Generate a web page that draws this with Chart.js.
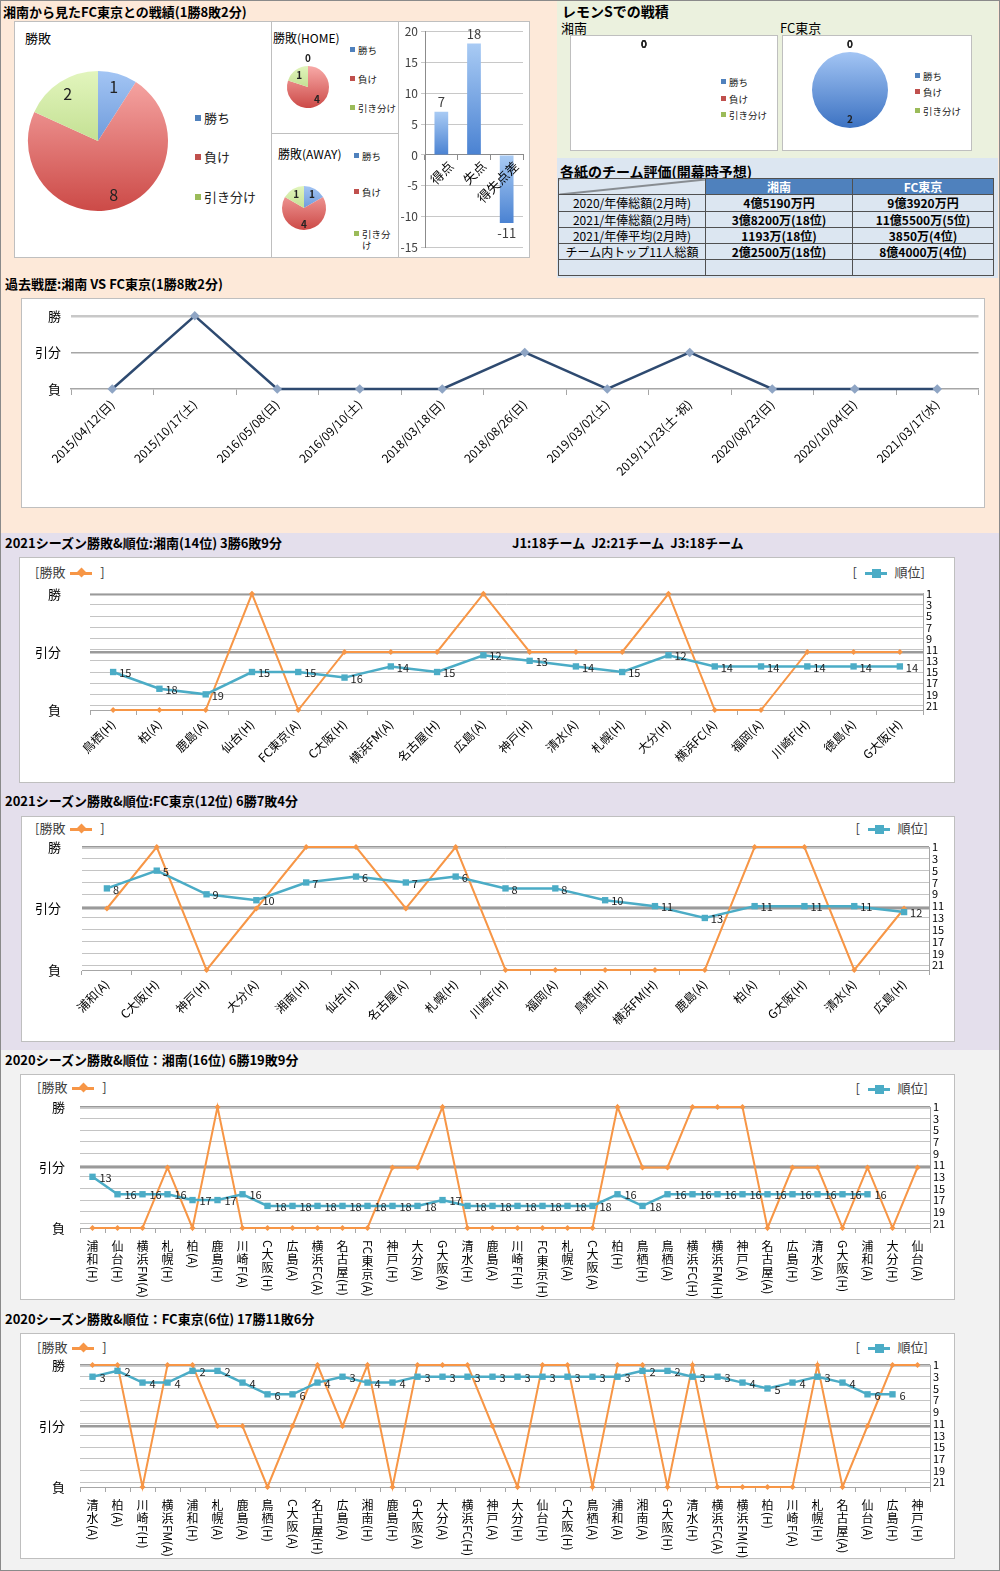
<!DOCTYPE html>
<html lang="ja">
<head>
<meta charset="utf-8">
<title>湘南 vs FC東京 戦績</title>
<script src="https://cdn.jsdelivr.net/npm/chart.js@4.4.1/dist/chart.umd.min.js"></script>
<style>
  body { margin:0; width:1000px; height:1571px; position:relative; overflow:hidden; background:#fff;
         font-family:"Noto Sans CJK JP","Noto Sans",sans-serif; color:#000; }
  .bg, .box, .ttl, .lbl, .lg, .plg, .line { position:absolute; }
  .box { background:#fff; border:1px solid #bfbfbf; box-sizing:border-box; }
  .line { background:#bfbfbf; }
  .ttl { font-weight:bold; font-size:13px; line-height:1; white-space:nowrap; }
  .lbl { font-size:13px; line-height:1; white-space:nowrap; }
  .lg { font-size:13px; line-height:16px; color:#404040; white-space:nowrap; }
  .mk { display:inline-block; position:relative; width:22px; height:3px; vertical-align:middle; margin:0 5px; }
  .mk.o { background:#f79646; }
  .mk.o::after { content:''; position:absolute; left:7.5px; top:-2.5px; width:7px; height:7px; background:#f79646; transform:rotate(45deg); }
  .mk.b { background:#4bacc6; }
  .mk.b::after { content:''; position:absolute; left:7px; top:-3px; width:9px; height:9px; background:#4bacc6; }
  .plg { color:#222; white-space:nowrap; }
  .plg i { display:inline-block; margin-right:3px; vertical-align:middle; position:relative; top:-1px; }
  .plg span { display:inline-block; vertical-align:top; white-space:normal; }
  #evalTable { position:absolute; left:558px; top:178px; width:435px; border-collapse:collapse; table-layout:fixed; font-size:12px; }
  #evalTable td { border:1px solid #505050; padding:0; text-align:center; line-height:14px; background:#dce6f1; white-space:nowrap; }
  #evalTable td.h { background:#4f81bd; color:#fff; font-weight:bold; }
  #evalTable td.v { font-weight:bold; }
  #evalTable td.diag { background:linear-gradient(to bottom right, transparent calc(50% - 1px), #333 50%, transparent calc(50% + 1px)) #dce6f1; }
  .frame { position:absolute; left:0; top:0; width:998px; height:1569px; border:1px solid #8a8a8a; pointer-events:none; }
</style>
</head>
<body>
<!-- section backgrounds -->
<div class="bg" style="left:0;top:0;width:1000px;height:533px;background:#fde9d9"></div>
<div class="bg" style="left:557px;top:0;width:441px;height:158px;background:#ebf1de"></div>
<div class="bg" style="left:557px;top:158px;width:441px;height:120px;background:#dce6f1"></div>
<div class="bg" style="left:0;top:533px;width:1000px;height:517px;background:#e4dfec"></div>
<div class="bg" style="left:0;top:1050px;width:1000px;height:521px;background:#f2f2f2"></div>

<!-- 上段左: 対戦成績 -->
<div class="ttl" style="left:3px;top:5px">湘南から見たFC東京との戦績(1勝8敗2分)</div>
<div class="box" style="left:14px;top:21px;width:516px;height:237px"></div>
<div class="line" style="left:271px;top:21px;width:1px;height:237px"></div>
<div class="line" style="left:398px;top:21px;width:1px;height:237px"></div>
<div class="line" style="left:271px;top:133px;width:127px;height:1px"></div>
<div class="lbl" style="left:25px;top:31px">勝敗</div>
<div class="lbl" style="left:273px;top:32px;font-size:12px">勝敗(HOME)</div>
<div class="lbl" style="left:278px;top:148px;font-size:12px">勝敗(AWAY)</div>

<!-- 上段右: レモンS -->
<div class="ttl" style="left:562px;top:4px;font-size:14px">レモンSでの戦積</div>
<div class="lbl" style="left:561px;top:21px">湘南</div>
<div class="lbl" style="left:780px;top:21px">FC東京</div>
<div class="box" style="left:570px;top:35px;width:208px;height:116px"></div>
<div class="box" style="left:782px;top:35px;width:190px;height:116px"></div>

<div class="ttl" style="left:560px;top:164px;font-size:14px">各紙のチーム評価(開幕時予想)</div>
<table id="evalTable"><colgroup><col style="width:147px"><col style="width:147px"><col style="width:141px"></colgroup><tbody></tbody></table>

<!-- 過去戦歴 -->
<div class="ttl" style="left:5px;top:277px">過去戦歴:湘南 VS FC東京(1勝8敗2分)</div>
<div class="box" style="left:21px;top:298px;width:964px;height:210px"></div>

<!-- 2021 -->
<div class="ttl" style="left:5px;top:536px">2021シーズン勝敗&amp;順位:湘南(14位) 3勝6敗9分</div>
<div class="ttl" style="left:512px;top:536px">J1:18チーム&nbsp;&nbsp;J2:21チーム&nbsp;&nbsp;J3:18チーム</div>
<div class="box" style="left:19px;top:557px;width:936px;height:226px"></div>
<div class="lg" style="left:35px;top:564px">[勝敗<span class="mk o"></span> ]</div>
<div class="lg" style="right:75px;top:564px">[ <span class="mk b"></span> 順位]</div>

<div class="ttl" style="left:5px;top:794px">2021シーズン勝敗&amp;順位:FC東京(12位) 6勝7敗4分</div>
<div class="box" style="left:21px;top:816px;width:934px;height:226px"></div>
<div class="lg" style="left:35px;top:820px">[勝敗<span class="mk o"></span> ]</div>
<div class="lg" style="right:72px;top:820px">[ <span class="mk b"></span> 順位]</div>

<!-- 2020 -->
<div class="ttl" style="left:5px;top:1053px">2020シーズン勝敗&amp;順位：湘南(16位) 6勝19敗9分</div>
<div class="box" style="left:20px;top:1074px;width:935px;height:226px"></div>
<div class="lg" style="left:37px;top:1079px">[勝敗<span class="mk o"></span> ]</div>
<div class="lg" style="right:72px;top:1080px">[ <span class="mk b"></span> 順位]</div>

<div class="ttl" style="left:5px;top:1312px">2020シーズン勝敗&amp;順位：FC東京(6位) 17勝11敗6分</div>
<div class="box" style="left:20px;top:1333px;width:935px;height:226px"></div>
<div class="lg" style="left:37px;top:1339px">[勝敗<span class="mk o"></span> ]</div>
<div class="lg" style="right:72px;top:1339px">[ <span class="mk b"></span> 順位]</div>

<div class="frame"></div>

<script>
// ---- データ ----
// 勝敗の値: 0=負, 1=引分, 2=勝
const resultNames = ['負', '引分', '勝'];
const resultTicks = [0, 1, 2];
const rankTicks = [1, 3, 5, 7, 9, 11, 13, 15, 17, 19, 21];

// 対戦成績 (湘南から見た)
const pieLabels = ['勝ち', '負け', '引き分け'];
const totalRecord = [1, 8, 2];
const homeRecord = [0, 4, 1];
const awayRecord = [1, 4, 1];
const goalLabels = ['得点', '失点', '得失点差'];
const goalValues = [7, 18, -11];

// レモンSでの戦積
const lemonShonan = [0, 0, 0];
const lemonTokyo = [2, 0, 0];

// 各紙のチーム評価
const evalHeads = ['湘南', 'FC東京'];
const evalRows = ['2020/年俸総額(2月時)', '2021/年俸総額(2月時)', '2021/年俸平均(2月時)', 'チーム内トップ11人総額', ''];
const evalShonan = ['4億5190万円', '3億8200万(18位)', '1193万(18位)', '2億2500万(18位)', ''];
const evalTokyo = ['9億3920万円', '11億5500万(5位)', '3850万(4位)', '8億4000万(4位)', ''];

// 過去戦歴
const pastDates = ['2015/04/12(日)', '2015/10/17(土)', '2016/05/08(日)', '2016/09/10(土)', '2018/03/18(日)',
  '2018/08/26(日)', '2019/03/02(土)', '2019/11/23(土･祝)', '2020/08/23(日)', '2020/10/04(日)', '2021/03/17(水)'];
const pastResults = [0, 2, 0, 0, 0, 1, 0, 1, 0, 0, 0];

// 2021 湘南
const s21ShonanLabels = ['鳥栖(H)', '柏(A)', '鹿島(A)', '仙台(H)', 'FC東京(A)', 'C大阪(H)', '横浜FM(A)', '名古屋(H)', '広島(A)',
  '神戸(H)', '清水(A)', '札幌(H)', '大分(H)', '横浜FC(A)', '福岡(A)', '川崎F(H)', '徳島(A)', 'G大阪(H)'];
const s21ShonanResults = [0, 0, 0, 2, 0, 1, 1, 1, 2, 1, 1, 1, 2, 0, 0, 1, 1, 1];
const s21ShonanRanks = [15, 18, 19, 15, 15, 16, 14, 15, 12, 13, 14, 15, 12, 14, 14, 14, 14, 14];

// 2021 FC東京
const s21TokyoLabels = ['浦和(A)', 'C大阪(H)', '神戸(H)', '大分(A)', '湘南(H)', '仙台(H)', '名古屋(A)', '札幌(H)', '川崎F(H)',
  '福岡(A)', '鳥栖(H)', '横浜FM(H)', '鹿島(A)', '柏(A)', 'G大阪(H)', '清水(A)', '広島(H)'];
const s21TokyoResults = [1, 2, 0, 1, 2, 2, 1, 2, 0, 0, 0, 0, 0, 2, 2, 0, 1];
const s21TokyoRanks = [8, 5, 9, 10, 7, 6, 7, 6, 8, 8, 10, 11, 13, 11, 11, 11, 12];

// 2020 湘南
const s20ShonanLabels = ['浦和(H)', '仙台(H)', '横浜FM(A)', '札幌(H)', '柏(A)', '鹿島(H)', '川崎F(A)', 'C大阪(H)', '広島(A)',
  '横浜FC(A)', '名古屋(H)', 'FC東京(A)', '神戸(H)', '大分(A)', 'G大阪(A)', '清水(H)', '鹿島(A)', '川崎F(H)', 'FC東京(H)',
  '札幌(A)', 'C大阪(A)', '柏(H)', '鳥栖(H)', '鳥栖(A)', '横浜FC(H)', '横浜FM(H)', '神戸(A)', '名古屋(A)', '広島(H)',
  '清水(A)', 'G大阪(H)', '浦和(A)', '大分(H)', '仙台(A)'];
const s20ShonanResults = [0, 0, 0, 1, 0, 2, 0, 0, 0, 0, 0, 0, 1, 1, 2, 0, 0, 0, 0, 0, 0, 2, 1, 1, 2, 2, 2, 0, 1, 1, 0, 1, 0, 1];
const s20ShonanRanks = [13, 16, 16, 16, 17, 17, 16, 18, 18, 18, 18, 18, 18, 18, 17, 18, 18, 18, 18, 18, 18, 16, 18, 16,
  16, 16, 16, 16, 16, 16, 16, 16, null, null];

// 2020 FC東京
const s20TokyoLabels = ['清水(A)', '柏(A)', '川崎F(H)', '横浜FM(A)', '浦和(H)', '札幌(A)', '鹿島(A)', '鳥栖(H)', 'C大阪(A)',
  '名古屋(H)', '広島(A)', '湘南(H)', '鹿島(H)', 'G大阪(A)', '大分(A)', '横浜FC(H)', '神戸(A)', '大分(H)', '仙台(H)',
  'C大阪(H)', '鳥栖(A)', '浦和(A)', '湘南(A)', 'G大阪(H)', '清水(H)', '横浜FC(A)', '横浜FM(H)', '柏(H)', '川崎F(A)',
  '札幌(H)', '名古屋(A)', '仙台(A)', '広島(H)', '神戸(H)'];
const s20TokyoResults = [2, 2, 0, 2, 2, 1, 1, 0, 1, 2, 1, 2, 0, 2, 2, 2, 1, 0, 2, 2, 0, 2, 2, 0, 2, 0, 0, 0, 0, 2, 0, 1, 2, 2];
const s20TokyoRanks = [3, 2, 4, 4, 2, 2, 4, 6, 6, 4, 3, 4, 4, 3, 3, 3, 3, 3, 3, 3, 3, 3, 2, 2, 3, 3, 4, 5, 4, 3, 4, 6, 6, null];

// ---- 共通設定 ----
Chart.defaults.font.family = '"Noto Sans CJK JP", "Noto Sans", sans-serif';
Chart.defaults.color = '#000';
Chart.defaults.animation = false;
Chart.defaults.responsive = true;
Chart.defaults.maintainAspectRatio = false;
Chart.defaults.plugins.legend.display = false;
Chart.defaults.plugins.tooltip.enabled = false;

const legendColors = ['#4f81bd', '#c0504d', '#9bbb59'];
const pieTop = ['#a3c5f4', '#f8aaa8', '#e2f5bd'];
const pieBottom = ['#3c72c2', '#cc4a47', '#a6cc6a'];

// canvas を絶対位置で配置
function place(x, y, w, h) {
  const d = document.createElement('div');
  d.style.cssText = `position:absolute;left:${x}px;top:${y}px;width:${w}px;height:${h}px;`;
  const c = document.createElement('canvas');
  d.appendChild(c);
  document.body.appendChild(d);
  return c;
}

// 円グラフのラベル
const pieValueLabels = {
  id: 'pieValueLabels',
  afterDatasetsDraw(chart, args, o) {
    const { ctx, chartArea: a } = chart;
    const data = chart.data.datasets[0].data;
    const meta = chart.getDatasetMeta(0);
    const cx = (a.left + a.right) / 2, cy = (a.top + a.bottom) / 2;
    const r = Math.min(a.width, a.height) / 2;
    ctx.save();
    ctx.font = o.font;
    ctx.fillStyle = o.color;
    ctx.textAlign = 'center';
    ctx.textBaseline = 'middle';
    data.forEach((v, i) => {
      let x = cx, y = cy - r - 8;
      if (v > 0) {
        const arc = meta.data[i];
        const mid = (arc.startAngle + arc.endAngle) / 2;
        x = cx + Math.cos(mid) * r * o.inside;
        y = cy + Math.sin(mid) * r * o.inside;
      }
      ctx.fillText(String(v), x, y);
    });
    ctx.restore();
  }
};

function pieChart(data, cx, cy, r, font, inside) {
  const m = 18;
  const cv = place(cx - r - m, cy - r - m, 2 * r + 2 * m, 2 * r + 2 * m);
  return new Chart(cv, {
    type: 'pie',
    data: {
      labels: pieLabels,
      datasets: [{
        data: data,
        borderWidth: 0,
        hoverOffset: 0,
        backgroundColor: c => {
          const a = c.chart.chartArea;
          if (!a) return pieBottom[c.dataIndex];
          const g = c.chart.ctx.createLinearGradient(0, a.top, 0, a.bottom);
          g.addColorStop(0, pieTop[c.dataIndex]);
          g.addColorStop(1, pieBottom[c.dataIndex]);
          return g;
        }
      }]
    },
    options: {
      layout: { padding: m },
      plugins: { pieValueLabels: { font: font, color: '#222', inside: inside } }
    },
    plugins: [pieValueLabels]
  });
}

function pieLegend(x, ys, size, sq, textWidth) {
  pieLabels.forEach((lab, i) => {
    const d = document.createElement('div');
    d.className = 'plg';
    const lh = Math.round(size * 1.2);
    d.style.cssText = `left:${x}px;top:${ys[i] - lh / 2}px;font-size:${size}px;line-height:${lh}px;`;
    const sw = textWidth ? `width:${textWidth}px;` : '';
    d.innerHTML = `<i style="width:${sq}px;height:${sq}px;background:${legendColors[i]}"></i><span style="${sw}">${lab}</span>`;
    document.body.appendChild(d);
  });
}

// 対戦成績の円グラフ
pieChart(totalRecord, 98, 141, 70, '16px "Noto Sans CJK JP"', 0.8);
pieLegend(195, [118, 157, 197], 13, 6);
pieChart(homeRecord, 308, 87, 21, 'bold 10px "Noto Sans CJK JP"', 0.72);
pieLegend(350, [50, 79, 108], 9.5, 5);
pieChart(awayRecord, 304, 208, 22, 'bold 10px "Noto Sans CJK JP"', 0.72);
pieLegend(354, [156, 192, 234], 9.5, 5, 30);

// レモンS
pieChart(lemonShonan, 644, 90, 38, 'bold 10px "Noto Sans CJK JP"', 0.78);
pieLegend(721, [82, 99, 115], 9.5, 5);
pieChart(lemonTokyo, 850, 90, 38, 'bold 10px "Noto Sans CJK JP"', 0.78);
pieLegend(915, [76, 92, 111], 9.5, 5);

// 得点・失点の棒グラフ (値ラベルと斜めの項目ラベル)
const barValueLabels = {
  id: 'barValueLabels',
  afterDatasetsDraw(chart) {
    const { ctx } = chart;
    const meta = chart.getDatasetMeta(0);
    const data = chart.data.datasets[0].data;
    const xs = chart.scales.x;
    const y0 = chart.scales.y.getPixelForValue(0);
    ctx.save();
    ctx.font = '13px "Noto Sans CJK JP"';
    ctx.fillStyle = '#404040';
    ctx.textAlign = 'center';
    meta.data.forEach((bar, i) => {
      const v = data[i];
      ctx.textBaseline = v >= 0 ? 'bottom' : 'top';
      ctx.fillText(String(v), bar.x, v >= 0 ? bar.y - 3 : bar.y + 4);
    });
    ctx.fillStyle = '#000';
    ctx.textAlign = 'right';
    ctx.textBaseline = 'top';
    chart.data.labels.forEach((lab, i) => {
      ctx.save();
      ctx.translate(xs.getPixelForTick(i) + 5, y0 + 4);
      ctx.rotate(-Math.PI / 4);
      ctx.fillText(lab, 0, 0);
      ctx.restore();
    });
    ctx.restore();
  }
};

new Chart(place(398, 21, 132, 237), {
  type: 'bar',
  data: {
    labels: goalLabels,
    datasets: [{
      data: goalValues,
      barPercentage: 0.42,
      categoryPercentage: 1,
      backgroundColor: c => {
        const chart = c.chart;
        if (!chart.chartArea || c.type !== 'data') return '#6b9de0';
        const y = chart.scales.y;
        const g = chart.ctx.createLinearGradient(0, y.getPixelForValue(Math.max(c.raw, 0)), 0, y.getPixelForValue(Math.min(c.raw, 0)));
        g.addColorStop(0, '#a9cbf4');
        g.addColorStop(1, '#4a82d2');
        return g;
      }
    }]
  },
  options: {
    layout: { padding: { top: 8, right: 7, bottom: 9, left: 0 } },
    scales: {
      x: {
        position: { y: 0 },
        grid: { offset: true, drawOnChartArea: false, tickLength: 5, color: '#8c8c8c' },
        border: { color: '#8c8c8c' },
        ticks: { display: false },
        afterFit: s => { s.height = 0; }
      },
      y: {
        min: -15, max: 20,
        ticks: { stepSize: 5, padding: 3, color: '#404040', font: { size: 12 } },
        grid: { color: '#c8c8c8', tickLength: 4 },
        border: { color: '#8c8c8c' },
        afterFit: s => { s.width = 27; }
      }
    }
  },
  plugins: [barValueLabels]
});

// 評価表
(function buildTable() {
  const tb = document.querySelector('#evalTable tbody');
  let html = `<tr style="height:16px"><td class="diag"></td><td class="h">${evalHeads[0]}</td><td class="h">${evalHeads[1]}</td></tr>`;
  evalRows.forEach((r, i) => {
    html += `<tr style="height:${i === 0 ? 17 : 16}px"><td>${r}</td><td class="v">${evalShonan[i]}</td><td class="v">${evalTokyo[i]}</td></tr>`;
  });
  tb.innerHTML = html;
})();

// 過去戦歴
new Chart(place(21, 298, 964, 210), {
  type: 'line',
  data: {
    labels: pastDates,
    datasets: [{
      data: pastResults,
      borderColor: '#2e4a70',
      borderWidth: 2.5,
      pointStyle: 'rectRot',
      pointRadius: 3,
      pointBackgroundColor: '#8fa5c4',
      pointBorderColor: '#8fa5c4',
      clip: false
    }]
  },
  options: {
    layout: { padding: { top: 13, right: 2, left: 0, bottom: 0 } },
    scales: {
      x: {
        offset: true,
        grid: { offset: true, drawOnChartArea: false, tickLength: 6, color: '#a6a6a6' },
        border: { color: '#a6a6a6', width: 1.5 },
        ticks: { autoSkip: false, minRotation: 45, maxRotation: 45, padding: 2, font: { size: 12 } },
        afterFit: s => { s.height = 119; }
      },
      y: {
        min: 0, max: 2,
        afterBuildTicks: s => { s.ticks = resultTicks.map(v => ({ value: v })); },
        ticks: { callback: v => resultNames[v], padding: 10, font: { size: 13 } },
        grid: {
          drawTicks: false,
          color: c => (c.tick && c.tick.value === 2 ? '#c8c8c8' : '#a6a6a6'),
          lineWidth: c => (c.tick && c.tick.value === 2 ? 2.5 : (c.tick && c.tick.value === 1 ? 1.5 : 0))
        },
        border: { display: false },
        afterFit: s => { s.width = 50; }
      }
    }
  }
});

// 順位の数値ラベル
const rankLabels = {
  id: 'rankLabels',
  afterDatasetsDraw(chart, args, o) {
    const { ctx } = chart;
    const meta = chart.getDatasetMeta(0);
    const data = chart.data.datasets[0].data;
    ctx.save();
    ctx.font = '11px "Noto Sans CJK JP"';
    ctx.fillStyle = '#222';
    ctx.textAlign = 'left';
    ctx.textBaseline = 'middle';
    meta.data.forEach((pt, i) => {
      if (data[i] == null) return;
      ctx.fillText(String(data[i]), pt.x + o.dx, pt.y + o.dy);
    });
    ctx.restore();
  }
};

// 縦書きの横軸ラベル (2020)
const verticalLabels = {
  id: 'verticalLabels',
  afterDraw(chart, args, o) {
    if (!o.enabled) return;
    const { ctx, chartArea } = chart;
    const xs = chart.scales.x;
    ctx.save();
    ctx.fillStyle = '#000';
    ctx.font = '12px "Noto Sans CJK JP"';
    chart.data.labels.forEach((lab, i) => {
      const x = xs.getPixelForTick(i);
      let y = chartArea.bottom + 12;
      (lab.match(/[\x20-\x7e]+|[^\x20-\x7e]/g) || []).forEach(part => {
        if (/^[\x20-\x7e]+$/.test(part)) {
          const w = ctx.measureText(part).width;
          ctx.save();
          ctx.translate(x, y);
          ctx.rotate(Math.PI / 2);
          ctx.textAlign = 'left';
          ctx.textBaseline = 'middle';
          ctx.fillText(part, 0, 0);
          ctx.restore();
          y += w + 1;
        } else {
          ctx.textAlign = 'center';
          ctx.textBaseline = 'top';
          ctx.fillText(part, x, y);
          y += 13;
        }
      });
    });
    ctx.restore();
  }
};

function seasonChart(box, labels, results, ranks, lay) {
  return new Chart(place(box.x, box.y, box.w, box.h), {
    type: 'line',
    data: {
      labels: labels,
      datasets: [
        { label: '順位', data: ranks, yAxisID: 'yR', order: 0, clip: false,
          borderColor: '#4bacc6', backgroundColor: '#4bacc6', borderWidth: 2.5,
          pointStyle: 'rect', pointRadius: 4.5, pointBorderWidth: 0 },
        { label: '勝敗', data: results, yAxisID: 'yL', order: 1, clip: false,
          borderColor: '#f79646', backgroundColor: '#f79646', borderWidth: 2,
          pointStyle: 'rectRot', pointRadius: 3, pointBorderWidth: 0 }
      ]
    },
    options: {
      layout: { padding: { top: lay.top, left: 0, right: 0, bottom: 0 } },
      plugins: {
        rankLabels: { dx: lay.dx, dy: 1 },
        verticalLabels: { enabled: lay.vertical }
      },
      scales: {
        x: {
          offset: true,
          grid: { offset: true, drawOnChartArea: false, tickLength: 5, color: '#a6a6a6' },
          border: { color: '#a6a6a6' },
          ticks: lay.vertical ? { display: false }
            : { autoSkip: false, minRotation: 45, maxRotation: 45, padding: 2, font: { size: 12 } },
          afterFit: s => { s.height = lay.bottom; }
        },
        yL: {
          position: 'left', min: 0, max: 2,
          afterBuildTicks: s => { s.ticks = resultTicks.map(v => ({ value: v })); },
          ticks: { callback: v => resultNames[v], padding: lay.lpad, font: { size: 13 } },
          grid: { drawTicks: false, color: '#9a9a9a', lineWidth: c => (c.tick && c.tick.value > 0 ? 2.5 : 0) },
          border: { display: false },
          afterFit: s => { s.width = lay.left; }
        },
        yR: {
          position: 'right', reverse: true, min: 1, max: 21.8,
          afterBuildTicks: s => { s.ticks = rankTicks.map(v => ({ value: v })); },
          ticks: { autoSkip: false, padding: 3, font: { size: 11 } },
          grid: { drawTicks: false, color: '#c4c4c4', lineWidth: 1 },
          border: { display: true, color: '#a6a6a6' },
          afterFit: s => { s.width = lay.right; }
        }
      }
    },
    plugins: [rankLabels, verticalLabels]
  });
}

seasonChart({ x: 19, y: 557, w: 936, h: 226 }, s21ShonanLabels, s21ShonanResults, s21ShonanRanks,
  { top: 32, bottom: 73, left: 71, right: 32, lpad: 29, dx: 6, vertical: false });
seasonChart({ x: 21, y: 816, w: 934, h: 226 }, s21TokyoLabels, s21TokyoResults, s21TokyoRanks,
  { top: 31, bottom: 72, left: 61, right: 26, lpad: 21, dx: 6, vertical: false });
seasonChart({ x: 20, y: 1074, w: 935, h: 226 }, s20ShonanLabels, s20ShonanResults, s20ShonanRanks,
  { top: 33, bottom: 72, left: 60, right: 25, lpad: 15, dx: 7, vertical: true });
seasonChart({ x: 20, y: 1333, w: 935, h: 226 }, s20TokyoLabels, s20TokyoResults, s20TokyoRanks,
  { top: 32, bottom: 72, left: 60, right: 25, lpad: 15, dx: 7, vertical: true });
</script>
</body>
</html>
